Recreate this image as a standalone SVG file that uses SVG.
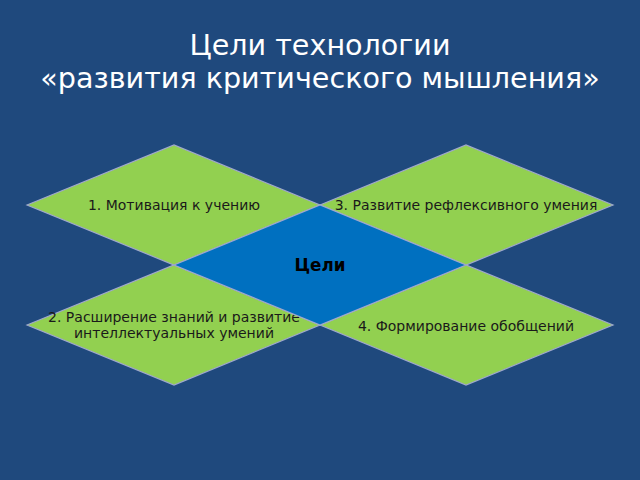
<svg xmlns="http://www.w3.org/2000/svg" width="640" height="480" viewBox="0 0 640 480">
<style>
.bg{fill:#1F497D}
.g{fill:#92D050;stroke:#A0A8CC;stroke-width:1.2}
.c{fill:#0070C0;stroke:#A0A8CC;stroke-width:1.2}
.t{font-family:"DejaVu Sans",sans-serif;font-size:14px;fill:#1a1a1a;text-anchor:middle}
.title{font-family:"DejaVu Sans",sans-serif;font-size:28.6px;fill:#FFFFFF;text-anchor:middle}
.ct{font-family:"DejaVu Sans",sans-serif;font-size:16.8px;font-weight:bold;fill:#000;text-anchor:middle}
</style>
<rect class="bg" x="0" y="0" width="640" height="480"/>
<text class="title" x="320" y="55">Цели технологии</text>
<text class="title" x="320" y="88">«развития критического мышления»</text>
<g id="node1"><polygon class="g" points="27,205 174,145 320,205 174,265"/><text class="t" x="174" y="210">1. Мотивация к учению</text></g>
<g id="node3"><polygon class="g" points="320,205 466,145 613,205 466,265"/><text class="t" x="466" y="210">3. Развитие рефлексивного умения</text></g>
<g id="node2"><polygon class="g" points="27,325 174,265 320,325 174,385"/><text class="t" x="174" y="322">2. Расширение знаний и развитие</text><text class="t" x="174" y="338">интеллектуальных умений</text></g>
<g id="node4"><polygon class="g" points="320,325 466,265 613,325 466,385"/><text class="t" x="466" y="331">4. Формирование обобщений</text></g>
<g id="center"><polygon class="c" points="174,265 320,205 466,265 320,325"/><text class="ct" x="320" y="271">Цели</text></g>
<g id="connectors"></g>
</svg>
